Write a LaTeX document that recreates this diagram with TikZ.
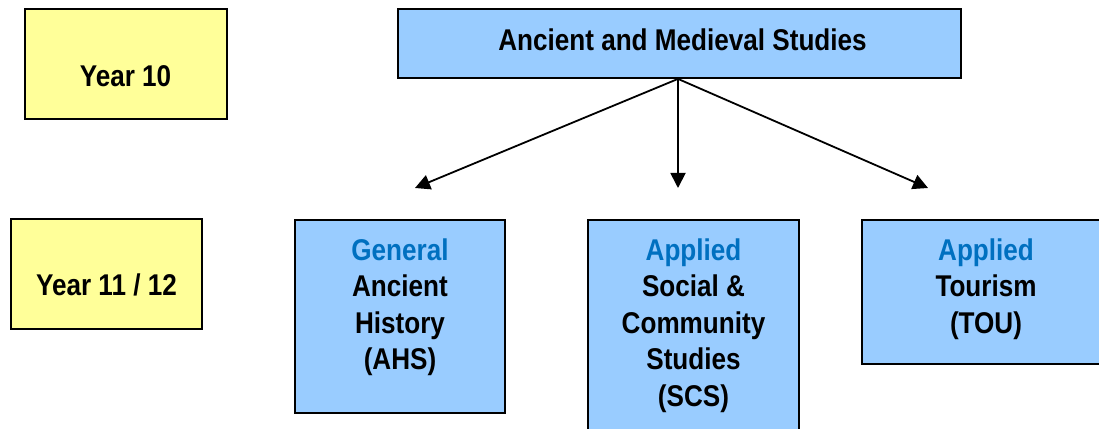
\documentclass[tikz,border=0pt]{standalone}
\usepackage{fontspec}
\setmainfont{Liberation Sans}[FakeStretch=0.87]
\usetikzlibrary{arrows.meta}
\definecolor{paleyellow}{HTML}{FFFF99}
\definecolor{paleblue}{HTML}{99CCFF}
\definecolor{levelblue}{HTML}{0070C0}
\tikzset{
  yearbox/.style={draw=black, line width=1.8pt, fill=paleyellow, inner sep=0pt},
  coursebox/.style={draw=black, line width=1.8pt, fill=paleblue, inner sep=0pt},
  label text/.style={font=\bfseries\fontsize{30}{36.5}\selectfont, inner sep=0pt, align=center},
  branch/.style={line width=1.8pt, -{Triangle[length=15pt,width=15pt]}}
}
\newcommand{\level}[1]{\textcolor{levelblue}{#1}}
\begin{document}
\begin{tikzpicture}[x=1pt,y=1pt]
  \clip (0,0) rectangle (1099,428);

  % year boxes
  \node[yearbox, minimum width=202pt, minimum height=110pt] (y10) at (126,364) {};
  \node[label text, anchor=base] (y10t) at (125.5,341.3) {Year 10};
  \node[yearbox, minimum width=191pt, minimum height=110pt] (y11) at (106.5,154) {};
  \node[label text, anchor=base] (y11t) at (106.5,132) {Year 11 / 12};

  % subject
  \node[coursebox, minimum width=563pt, minimum height=69pt] (main) at (679.5,384.5) {};
  \node[label text, anchor=base] (maint) at (682.5,377) {Ancient and Medieval Studies};

  % courses
  \node[coursebox, minimum width=210pt, minimum height=193pt] (ahs) at (400,111.5) {};
  \node[label text, anchor=north] (ahst) at (400,189.5) {\level{General}\\Ancient\\History\\(AHS)};
  \node[coursebox, minimum width=211pt, minimum height=220pt] (scs) at (693.5,98) {};
  \node[label text, anchor=north] (scst) at (693.5,189.5) {\level{Applied}\\Social \&\\Community\\Studies\\(SCS)};
  \node[coursebox, minimum width=248pt, minimum height=144pt] (tou) at (986,136) {};
  \node[label text, anchor=north] (tout) at (986,189.5) {\level{Applied}\\Tourism\\(TOU)};

  % arrow ends
  \coordinate (endA) at (415,240);
  \coordinate (endS) at (678,240);
  \coordinate (endT) at (928,240);
  \draw[branch] (main.south -| endS) -- (endA);
  \draw[branch] (main.south -| endS) -- (endS);
  \draw[branch] (main.south -| endS) -- (endT);
\end{tikzpicture}
\end{document}
